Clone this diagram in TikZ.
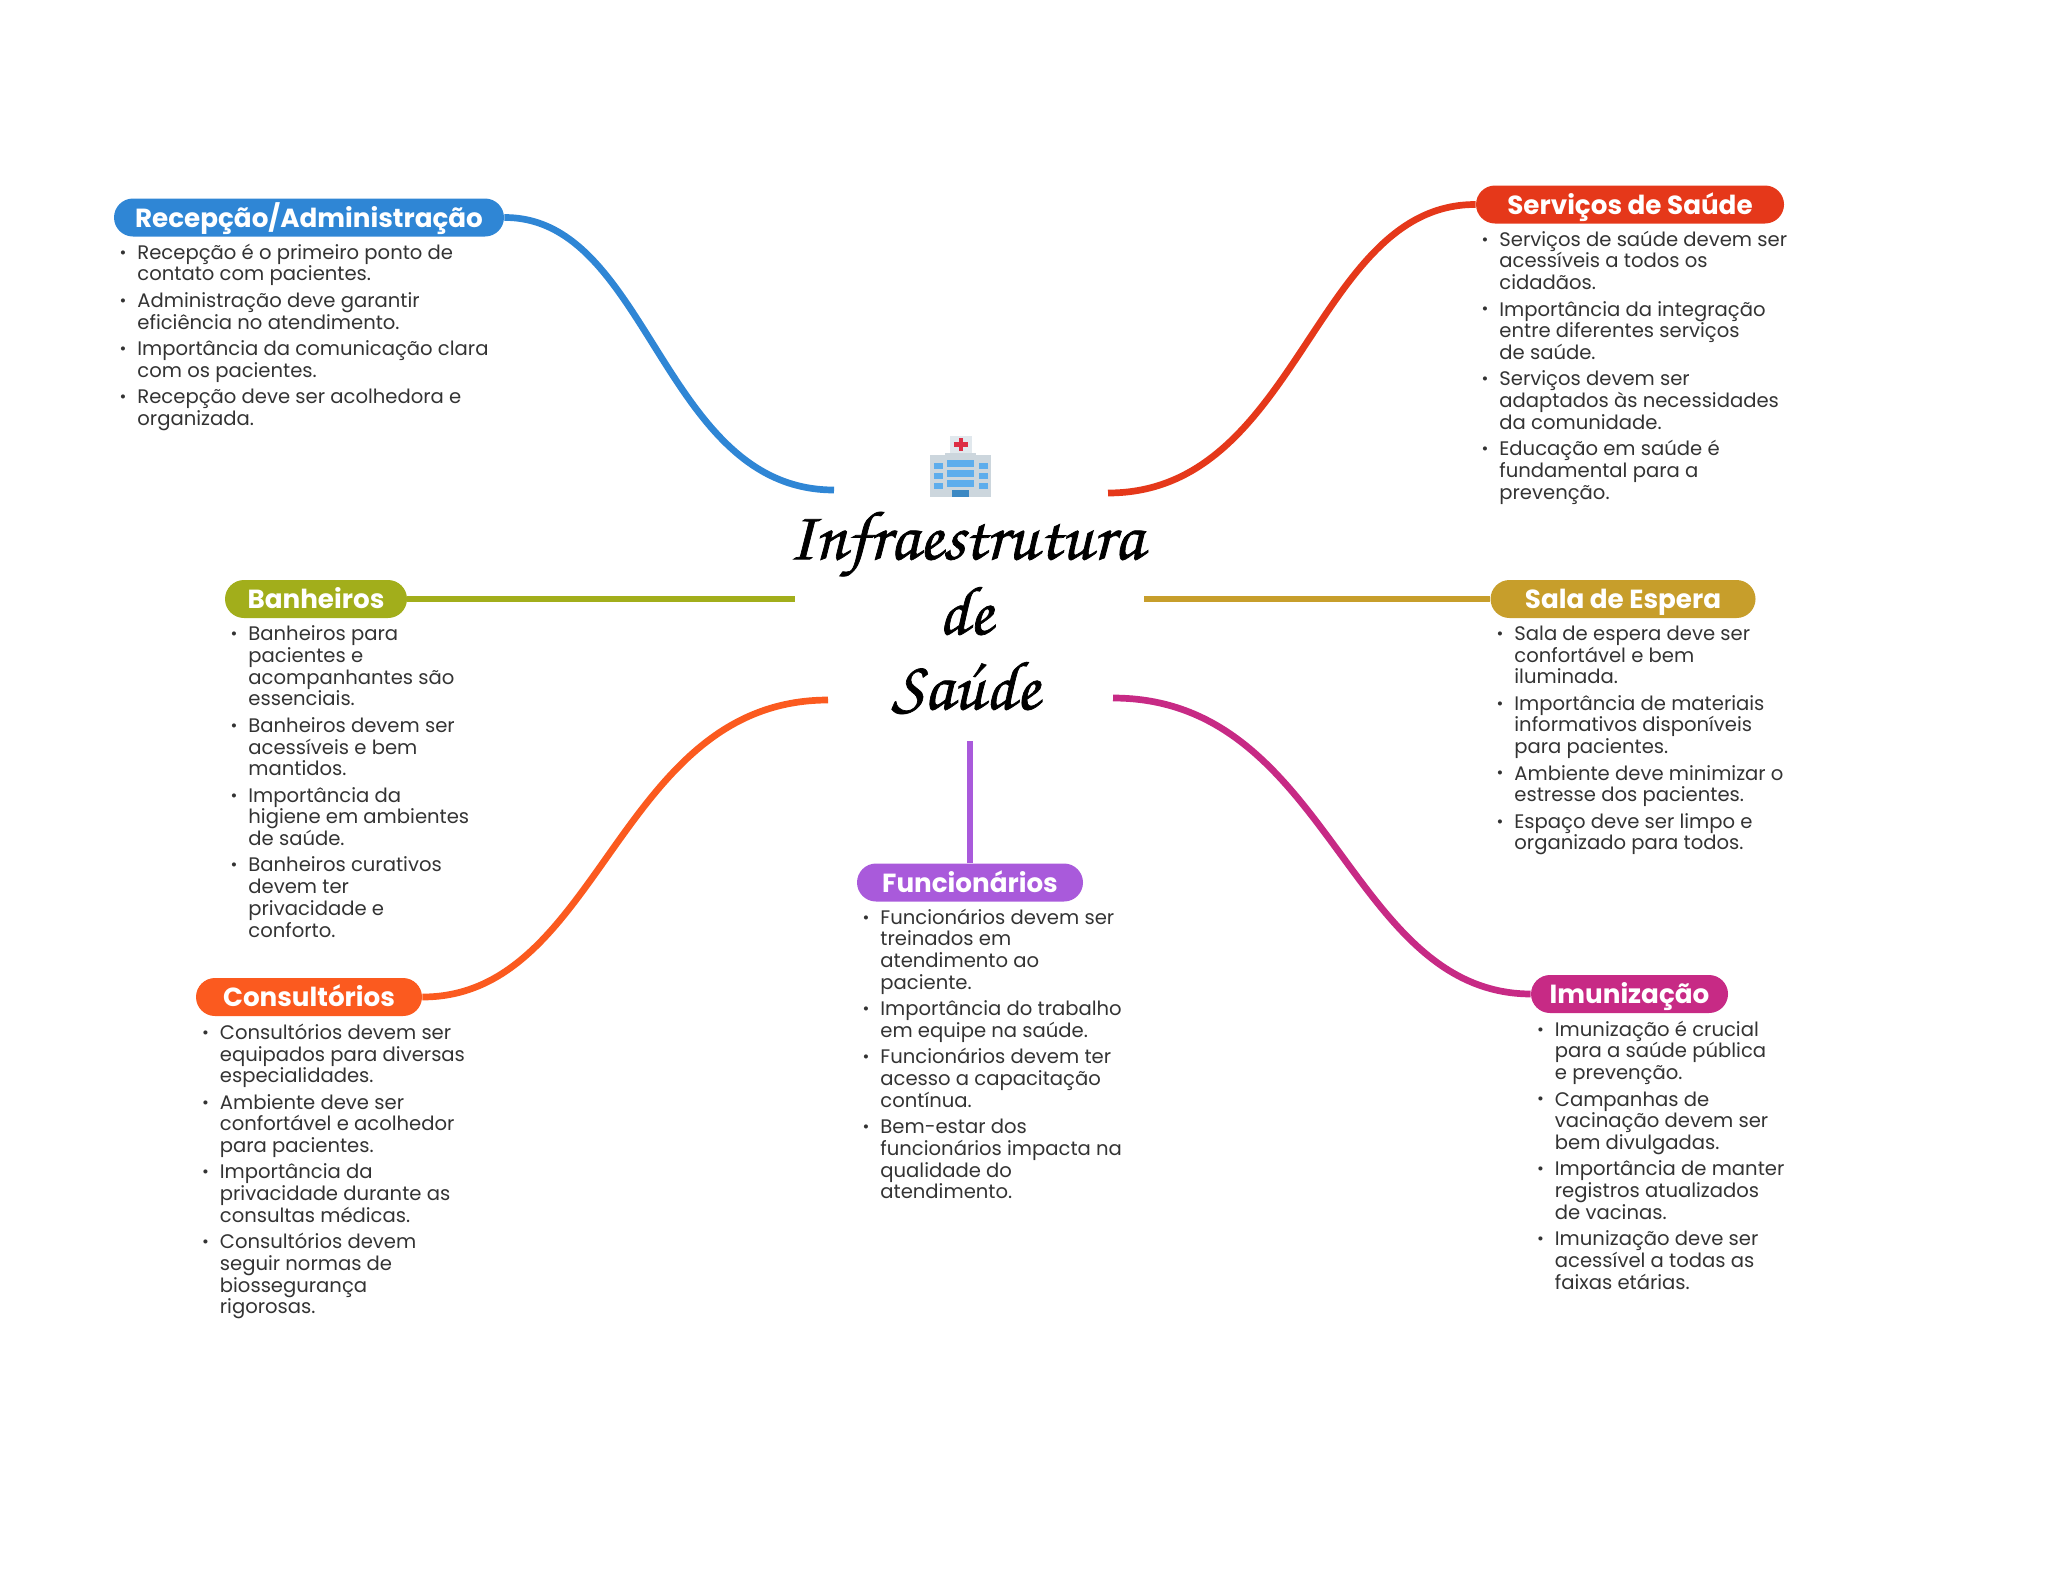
\documentclass[tikz,border=0pt]{standalone}
\usepackage{fontspec}
\setmainfont{Poppins}
\newfontfamily\titlefont[FakeBold=1]{TeX Gyre Chorus}
\usepackage{xcolor}
\usetikzlibrary{positioning, calc}
\definecolor{MMBlue}{RGB}{47,134,213}
\definecolor{MMRed}{RGB}{229,56,26}
\definecolor{MMOlive}{RGB}{162,174,27}
\definecolor{MMGold}{RGB}{199,158,43}
\definecolor{MMOrange}{RGB}{251,90,31}
\definecolor{MMMagenta}{RGB}{199,42,133}
\definecolor{MMPurple}{RGB}{169,90,219}
\definecolor{MMText}{RGB}{51,51,51}
\definecolor{IconBody}{RGB}{204,214,221}
\definecolor{IconTop}{RGB}{225,232,237}
\definecolor{IconGlass}{RGB}{93,173,236}
\definecolor{IconDoor}{RGB}{59,136,195}
\definecolor{IconCross}{RGB}{221,46,68}
\newcommand{\bul}{\llap{\raisebox{0.1ex}{\scalebox{0.85}{\textbullet}}\hspace{5.5pt}}}
\newcommand{\gap}{\\[2.35pt]}

\begin{document}
\begin{tikzpicture}[
    x=0.5pt, y=-0.5pt,
    pill/.style={rectangle, rounded corners=9.5pt, minimum height=19pt,
                 text height=10.9pt, text depth=1.1pt,
                 inner sep=0pt, text=white, font=\fontsize{13.1}{15}\selectfont\bfseries},
    bodytext/.style={anchor=north west, inner sep=0pt, align=left, text=MMText,
                     font=\fontsize{9.8}{10.85}\selectfont},
    link/.style={line width=3.35pt}
  ]
  \useasboundingbox (0,0) rectangle (2048,1569);

  % Central title
  \node[font=\titlefont\fontsize{34.8}{37.5}\selectfont, align=center, inner sep=0pt]
        (hub) at (965.5,613) {Infraestrutura\\de\\Saúde};
  \coordinate (hubNW) at (834,490);
  \coordinate (hubNE) at (1108,493);
  \coordinate (hubW)  at (795,599);
  \coordinate (hubE)  at (1144,599);
  \coordinate (hubSW) at (828,700);
  \coordinate (hubSE) at (1113,698);
  \coordinate (hubS)  at (970,741);

  % Hospital icon
  \fill[IconTop] (950,436) rectangle (972,453);
  \fill[IconBody] (930,455) rectangle (991,497);
  \fill[IconBody] (945,453) rectangle (976,497);
  \fill[IconCross] (959,438) rectangle (963,451);
  \fill[IconCross] (954,442) rectangle (968,447);
  \foreach \wy in {460,470,480} {
    \fill[IconGlass] (947,\wy) rectangle (974,\wy+7);
    \fill[IconGlass] (934,\wy+3) rectangle (943,\wy+9);
    \fill[IconGlass] (979,\wy+3) rectangle (988,\wy+9);
  }
  \fill[IconDoor] (952,490) rectangle (969,497);

  % Topic pills
  \node[pill, fill=MMBlue, minimum width=195pt] (recepcao) at (309,217.5) {Recepção/Administração};
  \node[pill, fill=MMRed, minimum width=154pt] (servicos) at (1630,204.5) {Serviços de Saúde};
  \node[pill, fill=MMOlive, minimum width=91pt] (banheiros) at (316,599) {Banheiros};
  \node[pill, fill=MMGold, minimum width=132.5pt] (sala) at (1623,599) {Sala de Espera};
  \node[pill, fill=MMOrange, minimum width=113pt] (consultorios) at (309,997) {Consultórios};
  \node[pill, fill=MMPurple, minimum width=113pt] (funcionarios) at (970,882.5) {Funcionários};
  \node[pill, fill=MMMagenta, minimum width=98.5pt] (imunizacao) at (1629.5,994) {Imunização};

  % Connectors
  \draw[link, MMBlue] (recepcao.east) .. controls (649,217) and (662,490) .. (hubNW);
  \draw[link, MMRed] (servicos.west) .. controls (1314,204) and (1299,493) .. (hubNE);
  \draw[link, MMOlive] (banheiros.east) -- (hubW);
  \draw[link, MMGold] (sala.west) -- (hubE);
  \draw[link, MMOrange] (consultorios.east) .. controls (601,997) and (617,700) .. (hubSW);
  \draw[link, MMMagenta] (imunizacao.west) .. controls (1347,993) and (1330,698) .. (hubSE);
  \draw[link, MMPurple] (funcionarios.north) -- (hubS);

  % Bullet texts
  \node[bodytext] (recepcaoText) at (137,243.5) {\bul Recepção é o primeiro ponto de\\contato com pacientes.\gap
    \bul Administração deve garantir\\eficiência no atendimento.\gap
    \bul Importância da comunicação clara\\com os pacientes.\gap
    \bul Recepção deve ser acolhedora e\\organizada.};
  \node[bodytext] (servicosText) at (1499,230.5) {\bul Serviços de saúde devem ser\\acessíveis a todos os\\cidadãos.\gap
    \bul Importância da integração\\entre diferentes serviços\\de saúde.\gap
    \bul Serviços devem ser\\adaptados às necessidades\\da comunidade.\gap
    \bul Educação em saúde é\\fundamental para a\\prevenção.};
  \node[bodytext] (banheirosText) at (248,625.5) {\bul Banheiros para\\pacientes e\\acompanhantes são\\essenciais.\gap
    \bul Banheiros devem ser\\acessíveis e bem\\mantidos.\gap
    \bul Importância da\\higiene em ambientes\\de saúde.\gap
    \bul Banheiros curativos\\devem ter\\privacidade e\\conforto.};
  \node[bodytext] (salaText) at (1514,625.5) {\bul Sala de espera deve ser\\confortável e bem\\iluminada.\gap
    \bul Importância de materiais\\informativos disponíveis\\para pacientes.\gap
    \bul Ambiente deve minimizar o\\estresse dos pacientes.\gap
    \bul Espaço deve ser limpo e\\organizado para todos.};
  \node[bodytext] (consultoriosText) at (219.5,1023.5) {\bul Consultórios devem ser\\equipados para diversas\\especialidades.\gap
    \bul Ambiente deve ser\\confortável e acolhedor\\para pacientes.\gap
    \bul Importância da\\privacidade durante as\\consultas médicas.\gap
    \bul Consultórios devem\\seguir normas de\\biossegurança\\rigorosas.};
  \node[bodytext] (funcionariosText) at (880,908.5) {\bul Funcionários devem ser\\treinados em\\atendimento ao\\paciente.\gap
    \bul Importância do trabalho\\em equipe na saúde.\gap
    \bul Funcionários devem ter\\acesso a capacitação\\contínua.\gap
    \bul Bem-estar dos\\funcionários impacta na\\qualidade do\\atendimento.};
  \node[bodytext] (imunizacaoText) at (1554.5,1020.5) {\bul Imunização é crucial\\para a saúde pública\\e prevenção.\gap
    \bul Campanhas de\\vacinação devem ser\\bem divulgadas.\gap
    \bul Importância de manter\\registros atualizados\\de vacinas.\gap
    \bul Imunização deve ser\\acessível a todas as\\faixas etárias.};
\end{tikzpicture}
\end{document}
